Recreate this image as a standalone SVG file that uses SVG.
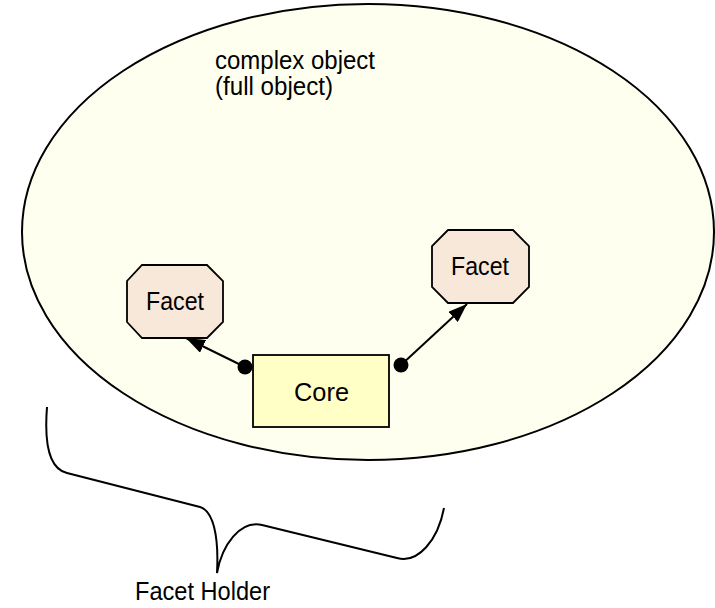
<svg xmlns="http://www.w3.org/2000/svg" width="715" height="608" viewBox="0 0 715 608">
<defs>
<style>
text{font-family:"Liberation Sans",Arial,sans-serif;font-size:25.5px;fill:#000}
.facet{fill:#F7E8DA;stroke:#000;stroke-width:1.8}
.core{fill:#FFFFC6;stroke:#000;stroke-width:1.8}
.conn{stroke:#000;stroke-width:2;fill:none}
</style>
<marker id="arrow" markerUnits="userSpaceOnUse" markerWidth="20" markerHeight="14" refX="19" refY="7" orient="auto">
<path d="M0,0 L19,7 L0,14 Z" fill="#000"/>
</marker>
</defs>
<rect width="715" height="608" fill="#fff"/>
<g id="complex-object">
<ellipse cx="368" cy="232" rx="346" ry="228" fill="#FFFFF0" stroke="#000" stroke-width="2"/>
<text x="215" y="69" textLength="160" lengthAdjust="spacingAndGlyphs">complex object</text>
<text x="215" y="95" textLength="118" lengthAdjust="spacingAndGlyphs">(full object)</text>
</g>
<g id="facet-left">
<polygon class="facet" points="142,265 207,265 223,281 223,322 207,338 142,338 127,322 127,281"/>
<text x="146" y="310" textLength="58" lengthAdjust="spacingAndGlyphs">Facet</text>
</g>
<g id="facet-right">
<polygon class="facet" points="448,230 513,230 529,246 529,287 513,303 448,303 432,287 432,246"/>
<text x="451" y="275" textLength="58" lengthAdjust="spacingAndGlyphs">Facet</text>
</g>
<g id="core">
<rect class="core" x="253" y="355" width="136" height="72"/>
<text x="294" y="401" textLength="55" lengthAdjust="spacingAndGlyphs">Core</text>
</g>
<g id="connectors">
<line class="conn" x1="245" y1="367" x2="186" y2="338" marker-end="url(#arrow)"/>
<circle cx="245" cy="367" r="7.5" fill="#000"/>
<line class="conn" x1="401" y1="365" x2="467" y2="304" marker-end="url(#arrow)"/>
<circle cx="401" cy="365" r="7.5" fill="#000"/>
</g>
<g id="facet-holder">
<path class="conn" d="M47,407 C44,445 50,469 67,473 L200,507 C213,511 219,535 217,573 C222,545 240,520 262,525 L397,558 C418,564 438,540 444,508"/>
<text x="135" y="600" textLength="135" lengthAdjust="spacingAndGlyphs">Facet Holder</text>
</g>
</svg>
